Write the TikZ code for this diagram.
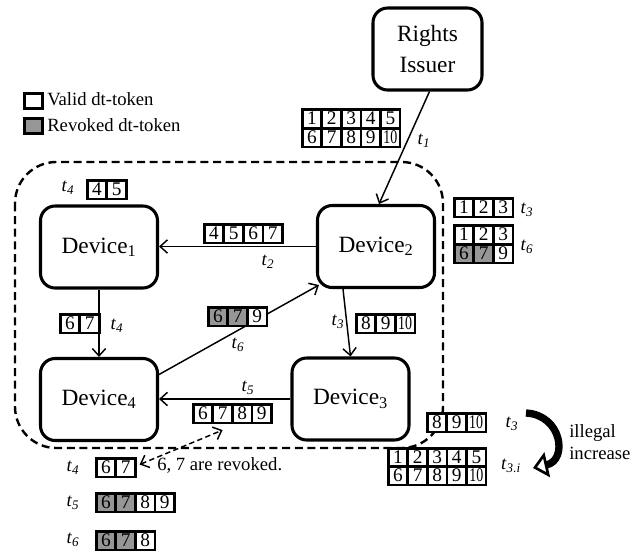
\documentclass[tikz,border=0pt]{standalone}
\usepackage{fontspec}
\setmainfont{Liberation Serif}
\usetikzlibrary{arrows.meta,calc}

\definecolor{revoked}{RGB}{150,150,150}

% italic time label t_i
\newcommand\tlab[1]{\textit{t}\textsubscript{\textit{#1}}}
% two-digit token squeezed into one cell
\newcommand\ten{\scalebox{0.72}[1]{10}}
% a row of dt-token cells: name, left x, top y, list of value/fill
\newcommand\tokrow[4]{%
  \foreach \v/\f [count=\i from 0] in {#4}{%
    \node[cell, fill=\f] (#1-\i) at ({#2+\i*19.6},#3) {\v};
  }}

\begin{document}
\begin{tikzpicture}[x=0.75pt,y=-0.75pt,
  every node/.style={font=\fontsize{14}{16}\selectfont},
  dev/.style={draw, line width=2.3pt, rounded corners=11pt, fill=white,
    minimum width=87.75pt, minimum height=61.5pt, inner sep=0pt,
    font=\fontsize{17.5}{21}\selectfont},
  cell/.style={draw, line width=1.9pt, anchor=north west, inner sep=0pt,
    minimum width=14.6pt, minimum height=13.9pt, font=\fontsize{14.5}{16}\selectfont},
  legbox/.style={draw, line width=1.9pt, anchor=north west, inner sep=0pt,
    minimum width=13.5pt, minimum height=11.5pt},
  arr/.style={line width=1.1pt, -{Straight Barb[length=5.5pt,width=10pt]}},
  boundary/.style={line width=1.8pt, dash pattern=on 6pt off 3.5pt, rounded corners=31pt},
  tl/.style={inner sep=0pt}
]
\useasboundingbox (0,0) rectangle (632,554);

% domain boundary
\draw[boundary] (15,162) rectangle (443,448);

% legend
\node[legbox, fill=white] (lv) at (23,92) {};
\node[legbox, fill=revoked] (lr) at (23,117) {};
\node[anchor=west, inner sep=0pt] (lvt) at (47,99) {Valid dt-token};
\node[anchor=west, inner sep=0pt] (lrt) at (47,125) {Revoked dt-token};

% entities
\node[dev, minimum width=81.75pt, align=center] (ri) at (427.5,49) {Rights\\[2pt]Issuer};
\node[dev] (d1) at (99,247) {Device\textsubscript{1}};
\node[dev] (d2) at (376,246.5) {Device\textsubscript{2}};
\node[dev] (d3) at (350.5,399) {Device\textsubscript{3}};
\node[dev] (d4) at (99,399.5) {Device\textsubscript{4}};

% transfers
\draw[arr] ($(ri.south)+(2,0)$) -- ($(d2.north)+(3,0)$);
\draw[arr] (d2.west) -- (d1.east |- d2.west);
\draw[arr] (d1.south) -- (d4.north);
\draw[arr] ($(d2.south)+(-33,0)$) -- (d3.north);
\draw[arr] (d3.west) -- (d4.east |- d3.west);
\draw[arr] ($(d4.east)+(0,-25)$) -- ($(d2.south west)+(3,-4)$);

% token sets
\tokrow{ria}{301}{108}{1/white,2/white,3/white,4/white,5/white}
\tokrow{rib}{301}{127}{6/white,7/white,8/white,9/white,\ten/white}
\node[tl] (lt1) at (424,141) {\tlab{1}};

\tokrow{da}{203}{223}{4/white,5/white,6/white,7/white}
\node[tl] (lt2) at (268,262) {\tlab{2}};

\tokrow{dt}{86}{179}{4/white,5/white}
\node[tl] (lt4a) at (68,188) {\tlab{4}};

\tokrow{ra}{453}{197}{1/white,2/white,3/white}
\node[tl] (lt3a) at (527,210) {\tlab{3}};
\tokrow{rb}{453}{224}{1/white,2/white,3/white}
\tokrow{rc}{453}{243}{6/revoked,7/revoked,9/white}
\node[tl] (lt6a) at (527,247) {\tlab{6}};

\tokrow{db}{59}{313}{6/white,7/white}
\node[tl] (lt4b) at (117,326) {\tlab{4}};

\tokrow{dg}{207}{306}{6/revoked,7/revoked,9/white}
\node[tl] (lt6b) at (238,345) {\tlab{6}};

\tokrow{dc}{355}{313}{8/white,9/white,\ten/white}
\node[tl] (lt3b) at (338,322) {\tlab{3}};

\node[tl] (lt5) at (248,388) {\tlab{5}};
\tokrow{dd}{192}{403}{6/white,7/white,8/white,9/white}

% revocation history below the domain
\tokrow{ha}{95}{457}{6/white,7/white}
\node[tl] (lt4c) at (73,468) {\tlab{4}};
\tokrow{hb}{95}{492}{6/revoked,7/revoked,8/white,9/white}
\node[tl] (lt5c) at (73,503) {\tlab{5}};
\tokrow{hc}{95}{530}{6/revoked,7/revoked,8/white}
\node[tl] (lt6c) at (73,540) {\tlab{6}};
\node[anchor=west, inner sep=0pt] (rev) at (157,465) {6, 7 are revoked.};
\draw[line width=1.1pt, dash pattern=on 4pt off 2.5pt,
  {Straight Barb[length=5.5pt,width=10pt]}-{Straight Barb[length=5.5pt,width=10pt]}]
  ($(ha-1.east)+(3,-3)$) -- ($(dd-1.south)+(0,6)$);

% illegal increase of tokens
\tokrow{ia}{426}{412}{8/white,9/white,\ten/white}
\node[tl] (lt3c) at (512,424) {\tlab{3}};
\tokrow{ib}{387}{447}{1/white,2/white,3/white,4/white,5/white}
\tokrow{ic}{387}{465}{6/white,7/white,8/white,9/white,\ten/white}
\node[tl] (lt3i) at (511,466) {\tlab{3.i}};
\coordinate (cs) at (526,413);
\coordinate (ce) at (533,468);
\draw[line width=5.5pt, -{Triangle[open, fill=white, length=11pt, width=19pt, line width=2pt]}]
  (cs) .. controls (562,415) and (568,460) .. (ce);
\node[anchor=west, align=left, inner sep=0pt] (ill) at (569,442) {illegal\\[1pt]increase};
\end{tikzpicture}
\end{document}
